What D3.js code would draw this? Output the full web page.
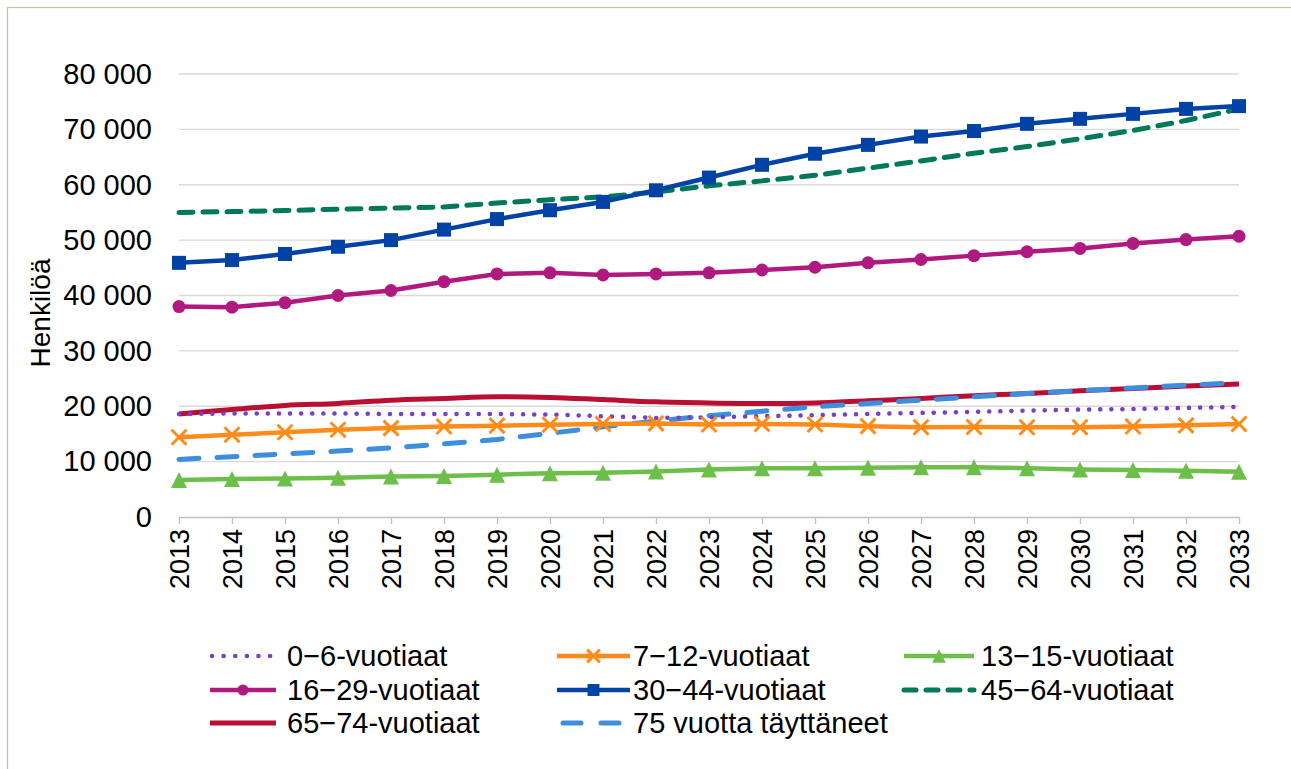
<!DOCTYPE html>
<html><head><meta charset="utf-8">
<script src="https://cdn.jsdelivr.net/npm/d3@7"></script>
<style>body{margin:0;background:#fff;}svg{display:block;font-family:"Liberation Sans",Arial,sans-serif;}</style>
</head><body><svg id="c" width="1291" height="769"></svg>
<script>
const years = d3.range(2013, 2034);
const yTicks = [0,10000,20000,30000,40000,50000,60000,70000,80000];
const s0_6   = [18600,18700,18700,18700,18600,18600,18600,18500,18200,17900,18000,18200,18400,18600,18800,19000,19200,19400,19500,19700,19900];
const s7_12  = [14400,14850,15300,15750,16050,16350,16500,16650,16800,16900,16700,16800,16700,16400,16200,16250,16200,16200,16350,16550,16800];
const s13_15 = [6700,6850,6950,7100,7300,7400,7650,7900,8000,8200,8600,8800,8800,8900,9000,9000,8800,8600,8500,8350,8150];
const s16_29 = [38000,37900,38700,40000,40900,42500,43900,44100,43700,43900,44100,44600,45100,45900,46500,47200,47900,48500,49400,50100,50700];
const s30_44 = [45900,46400,47500,48800,50000,51900,53800,55400,56900,59000,61300,63600,65600,67200,68700,69700,71000,71900,72800,73700,74200];
const s45_64 = [55000,55150,55350,55600,55800,56000,56700,57300,57800,58700,59800,60700,61700,63000,64300,65700,66900,68300,69800,71600,73700];
const s65_74 = [18600,19400,20150,20500,21100,21400,21700,21600,21200,20800,20600,20500,20600,21000,21400,21900,22300,22800,23200,23650,24000];
const s75    = [10400,10900,11400,11900,12500,13200,14000,15100,16300,17300,18300,19100,19900,20500,21100,21700,22300,22800,23300,23800,24250];
const names = ["0−6-vuotiaat","7−12-vuotiaat","13−15-vuotiaat","16−29-vuotiaat","30−44-vuotiaat","45−64-vuotiaat","65−74-vuotiaat","75 vuotta täyttäneet"];

const series = [
 {name:names[0], v:s0_6,   color:"#7a3fc2", w:4.5, dash:"0.1 11", cap:"round", marker:null},
 {name:names[1], v:s7_12,  color:"#ff8c1a", w:4.5, dash:null, marker:"x"},
 {name:names[2], v:s13_15, color:"#6cc04a", w:4.5, dash:null, marker:"tri"},
 {name:names[3], v:s16_29, color:"#b0197f", w:4.5, dash:null, marker:"circle"},
 {name:names[4], v:s30_44, color:"#0042a6", w:4.5, dash:null, marker:"square"},
 {name:names[5], v:s45_64, color:"#00785a", w:5, dash:"14 10", cap:"round", marker:null},
 {name:names[6], v:s65_74, color:"#b80f32", w:5, dash:null, marker:null, smooth:true},
 {name:names[7], v:s75,    color:"#3d8fdd", w:5, dash:"20 18", cap:"round", marker:null}
];

const FONT = "Liberation Sans, Arial, sans-serif";
const FS = 29;
const svg = d3.select("#c");
svg.append("rect").attr("x",7.5).attr("y",7.5).attr("width",1295).attr("height",775)
  .attr("fill","none").attr("stroke","#cbbd94").attr("stroke-width",1.2);

const x = d3.scalePoint().domain(years).range([179,1239]);
const y = d3.scaleLinear().domain([0,80000]).range([517,74]);
const fmt = d => d3.format(",")(d).replace(/,/g," ");

// gridlines
svg.append("g").selectAll("line").data(yTicks.filter(d=>d>0)).join("line")
  .attr("x1",179).attr("x2",1239).attr("y1",d=>y(d)).attr("y2",d=>y(d))
  .attr("stroke","#d9d9d9").attr("stroke-width",1.3);

// y axis labels
const ya = svg.append("g").attr("transform","translate(179,0)")
  .call(d3.axisLeft(y).tickValues(yTicks).tickFormat(fmt).tickSize(0).tickPadding(27));
ya.select(".domain").remove();
ya.selectAll("text").attr("font-size",FS).attr("fill","#000").attr("font-family",FONT);

// x axis
const xa = svg.append("g").attr("transform","translate(0,517)")
  .call(d3.axisBottom(x).tickSize(7).tickSizeOuter(0));
xa.select(".domain").attr("stroke","#bfbfbf").attr("stroke-width",1.3);
xa.selectAll(".tick line").attr("stroke","#bfbfbf").attr("stroke-width",1.3);
xa.selectAll("text").attr("font-size",27).attr("fill","#000")
  .attr("font-family",FONT)
  .attr("transform","rotate(-90)").attr("text-anchor","end")
  .attr("x",-12).attr("y",0).attr("dy","0.35em");

// y title
svg.append("text").attr("transform","translate(50,313) rotate(-90)")
  .attr("text-anchor","middle").attr("font-size",28).attr("font-family",FONT).text("Henkilöä");

function drawMarker(g, type, color, cx, cy, scale){
  const k = scale||1;
  if(type==="square"){
    g.append("rect").attr("x",cx-7*k).attr("y",cy-7*k).attr("width",14*k).attr("height",14*k).attr("fill",color);
  } else if(type==="circle"){
    g.append("circle").attr("cx",cx).attr("cy",cy).attr("r",6.5*k).attr("fill",color);
  } else if(type==="tri"){
    const h=8*k;
    g.append("path").attr("d",`M${cx},${cy-h}L${cx+h},${cy+h}L${cx-h},${cy+h}Z`).attr("fill",color);
  } else if(type==="x"){
    const h=7.5*k;
    g.append("path").attr("d",`M${cx-h},${cy-h}L${cx+h},${cy+h}M${cx-h},${cy+h}L${cx+h},${cy-h}`)
      .attr("stroke",color).attr("stroke-width",3).attr("fill","none");
  }
}

// draw order: back to front
const order = [5,6,7,0,1,2,3,4];
order.forEach(i=>{
  const s = series[i];
  const line = d3.line().x((d,j)=>x(years[j])).y(d=>y(d))
    .curve(s.smooth ? d3.curveCatmullRom.alpha(0.5) : d3.curveLinear);
  const p = svg.append("path").datum(s.v).attr("d",line).attr("fill","none")
    .attr("stroke",s.color).attr("stroke-width",s.w).attr("stroke-linejoin","round");
  if(s.dash) p.attr("stroke-dasharray",s.dash);
  if(s.cap) p.attr("stroke-linecap",s.cap);
  if(s.marker){
    const g = svg.append("g");
    s.v.forEach((d,j)=>drawMarker(g,s.marker,s.color,x(years[j]),y(d)));
  }
});

// legend
const colX = [[210,276,287],[557,630,633],[904,974,981]];
const rowY = [656,690,723];
series.forEach((s,i)=>{
  const c = colX[i%3], r = rowY[Math.floor(i/3)];
  const g = svg.append("g");
  const l = g.append("line").attr("x1",c[0]).attr("x2",c[1]).attr("y1",r).attr("y2",r)
    .attr("stroke",s.color).attr("stroke-width",s.w);
  if(s.dash){ l.attr("stroke-dasharray",s.dash==="0.1 11"?"0.1 11.5":(s.dash==="14 10"?"12 10":"18 20")).attr("stroke-linecap","round"); }
  if(s.dash==="0.1 11"){ l.attr("x1",c[0]+2); }
  if(s.dash==="20 18"){ l.attr("x1",c[0]+6).attr("x2",c[1]-4); }
  if(s.marker) drawMarker(g,s.marker,s.color,(c[0]+c[1])/2,r,0.85);
  g.append("text").attr("x",c[2]).attr("y",r).attr("dy","0.36em").attr("font-size",FS).attr("font-family",FONT).text(s.name);
});
</script></body></html>
